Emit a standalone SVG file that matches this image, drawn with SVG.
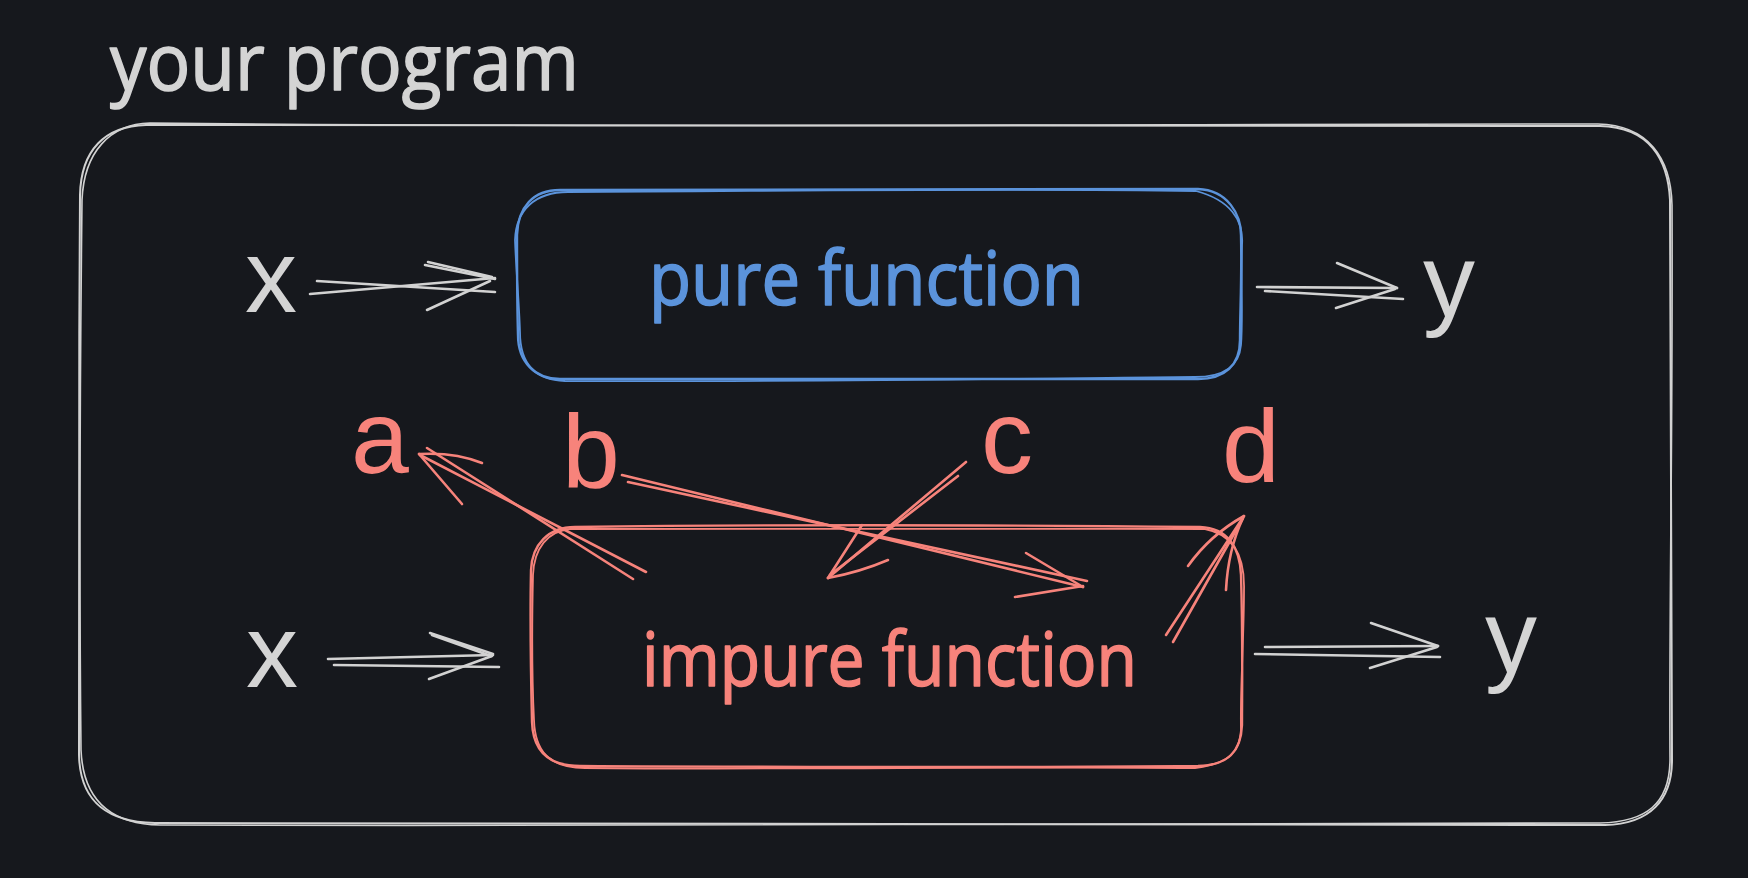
<svg xmlns="http://www.w3.org/2000/svg" width="1748" height="878" viewBox="0 0 1748 878">
  <defs>
    <style>
      .bg { fill: #16181d; }
      .sk { fill: none; stroke-linecap: round; stroke-linejoin: round; }
      .gray { stroke: #d2d2d2; }
      .blue { stroke: #5b93db; }
      .red { stroke: #f7837b; }
      .hand { font-family: "Open Sans", "Liberation Sans", sans-serif; stroke-width: 1.6; stroke-linejoin: round; }
      .sans { font-family: "Liberation Sans", Arial, sans-serif; font-size: 104px; }
      .tg { fill: #d4d4d4; }
      .tb { fill: #5b93db; }
      .tr { fill: #f7837b; }
      .hand.tg { stroke: #d4d4d4; }
      .hand.tb { stroke: #5b93db; }
      .hand.tr { stroke: #f7837b; }
      .arw line { stroke-width: 2.6; stroke-linecap: round; fill: none; }
    </style>
  </defs>
  <rect class="bg" x="0" y="0" width="1748" height="878"/>

  <g id="program">
    <path class="sk gray" stroke-width="2" d="M 146 125 C 600 123, 1100 127, 1600 126 C 1650 127, 1668 160, 1670 200 C 1672 400, 1671 600, 1672 760 C 1672 800, 1650 824, 1605 825 C 1100 826, 600 823, 155 823 C 105 822, 80 800, 79 755 C 78 560, 79 380, 80 195 C 81 150, 105 126, 146 125 Z"/>
    <path class="sk gray" stroke-width="1.6" d="M 150 123 C 600 128, 1150 124, 1598 124 C 1648 125, 1671 158, 1672 205 C 1673 420, 1669 620, 1670 756 C 1671 805, 1645 822, 1600 823 C 1150 827, 650 826, 160 825 C 108 824, 83 798, 81 750 C 79 560, 80 380, 82 200 C 84 152, 110 124, 150 123 Z"/>
    <text class="hand tg" x="110" y="90" font-size="78" textLength="469" lengthAdjust="spacingAndGlyphs">your program</text>
  </g>

  <g id="pure">
    <path class="sk blue" stroke-width="2.4" d="M 560 190 C 800 189, 1000 190, 1198 189 C 1228 190, 1241 215, 1241 235 C 1242 280, 1240 310, 1240 340 C 1240 365, 1225 379, 1198 379 C 1000 381, 800 380, 560 379 C 535 379, 518 362, 518 335 C 517 300, 517 260, 517 235 C 518 207, 533 190, 560 190 Z"/>
    <path class="sk blue" stroke-width="1.8" d="M 568 192 C 800 191, 1000 188, 1196 191 C 1230 200, 1244 220, 1242 245 C 1241 290, 1243 320, 1241 345 C 1239 368, 1222 377, 1195 377 C 1000 379, 800 382, 565 381 C 532 380, 520 360, 520 332 C 519 300, 516 270, 515 240 C 516 210, 535 192, 568 192 Z"/>
    <text class="hand tb" x="649" y="305" font-size="75" textLength="435" lengthAdjust="spacingAndGlyphs">pure function</text>
  </g>

  <g id="impure">
    <path class="sk red" stroke-width="2.4" d="M 575 527 C 800 524, 1000 525, 1200 527 C 1228 528, 1240 548, 1241 575 C 1243 640, 1242 690, 1242 725 C 1241 752, 1228 765, 1198 766 C 1000 768, 800 767, 580 766 C 550 766, 533 752, 532 722 C 531 680, 530 620, 531 570 C 532 545, 548 527, 575 527 Z"/>
    <path class="sk red" stroke-width="1.8" d="M 570 529 C 800 530, 1000 528, 1205 529 C 1232 534, 1245 555, 1244 590 C 1244 640, 1240 690, 1241 730 C 1240 755, 1225 764, 1195 768 C 1000 766, 800 770, 585 768 C 548 768, 535 750, 534 720 C 532 680, 532 620, 533 575 C 534 548, 548 531, 570 529 Z"/>
    <text class="hand tr" x="642" y="686" font-size="75" textLength="495" lengthAdjust="spacingAndGlyphs">impure function</text>
  </g>

  <g id="x-top"><text class="sans tg" x="245" y="312">x</text></g>
  <g id="y-top"><text class="sans tg" x="1423" y="316">y</text></g>
  <g id="x-bottom"><text class="sans tg" x="246" y="687">x</text></g>
  <g id="y-bottom"><text class="sans tg" x="1485" y="672">y</text></g>
  <g id="a"><text class="sans tr" x="351" y="473">a</text></g>
  <g id="b"><text class="sans tr" x="562" y="487">b</text></g>
  <g id="c"><text class="sans tr" x="981" y="473">c</text></g>
  <g id="d"><text class="sans tr" x="1222" y="482">d</text></g>

  <g id="connectors" class="arw">
    <g class="gray">
      <line x1="310" y1="294" x2="495" y2="278"/>
      <line x1="317" y1="281" x2="495" y2="292"/>
      <line x1="425" y1="265" x2="495" y2="279"/>
      <line x1="428" y1="262" x2="492" y2="277"/>
      <line x1="427" y1="310" x2="490" y2="281"/>

      <line x1="1257" y1="287" x2="1397" y2="288"/>
      <line x1="1265" y1="291" x2="1403" y2="299"/>
      <line x1="1337" y1="263" x2="1397" y2="288"/>
      <line x1="1336" y1="308" x2="1395" y2="289"/>

      <line x1="328" y1="659" x2="493" y2="655"/>
      <line x1="334" y1="665" x2="499" y2="667"/>
      <line x1="430" y1="633" x2="493" y2="654"/>
      <line x1="432" y1="635" x2="491" y2="656"/>
      <line x1="429" y1="679" x2="492" y2="656"/>

      <line x1="1265" y1="647" x2="1438" y2="646"/>
      <line x1="1255" y1="654" x2="1440" y2="657"/>
      <line x1="1371" y1="623" x2="1438" y2="646"/>
      <line x1="1370" y1="668" x2="1437" y2="647"/>
    </g>
    <g class="red">
      <line x1="646" y1="572" x2="420" y2="455"/>
      <line x1="633" y1="579" x2="427" y2="448"/>
      <path class="sk red" stroke-width="2.6" d="M 482 463 Q 455 452 419 454"/>
      <line x1="462" y1="504" x2="419" y2="454"/>

      <line x1="622" y1="475" x2="1083" y2="587"/>
      <line x1="628" y1="482" x2="1087" y2="581"/>
      <line x1="1026" y1="553" x2="1083" y2="587"/>
      <line x1="1015" y1="597" x2="1083" y2="586"/>

      <line x1="966" y1="462" x2="828" y2="578"/>
      <line x1="958" y1="476" x2="830" y2="575"/>
      <path class="sk red" stroke-width="2.6" d="M 888 560 Q 860 572 828 578"/>
      <line x1="862" y1="525" x2="828" y2="578"/>

      <line x1="1166" y1="635" x2="1244" y2="516"/>
      <line x1="1173" y1="642" x2="1243" y2="518"/>
      <path class="sk red" stroke-width="2.6" d="M 1188 566 Q 1210 535 1244 516"/>
      <path class="sk red" stroke-width="2.6" d="M 1226 590 Q 1228 550 1243 518"/>
    </g>
  </g>
</svg>
